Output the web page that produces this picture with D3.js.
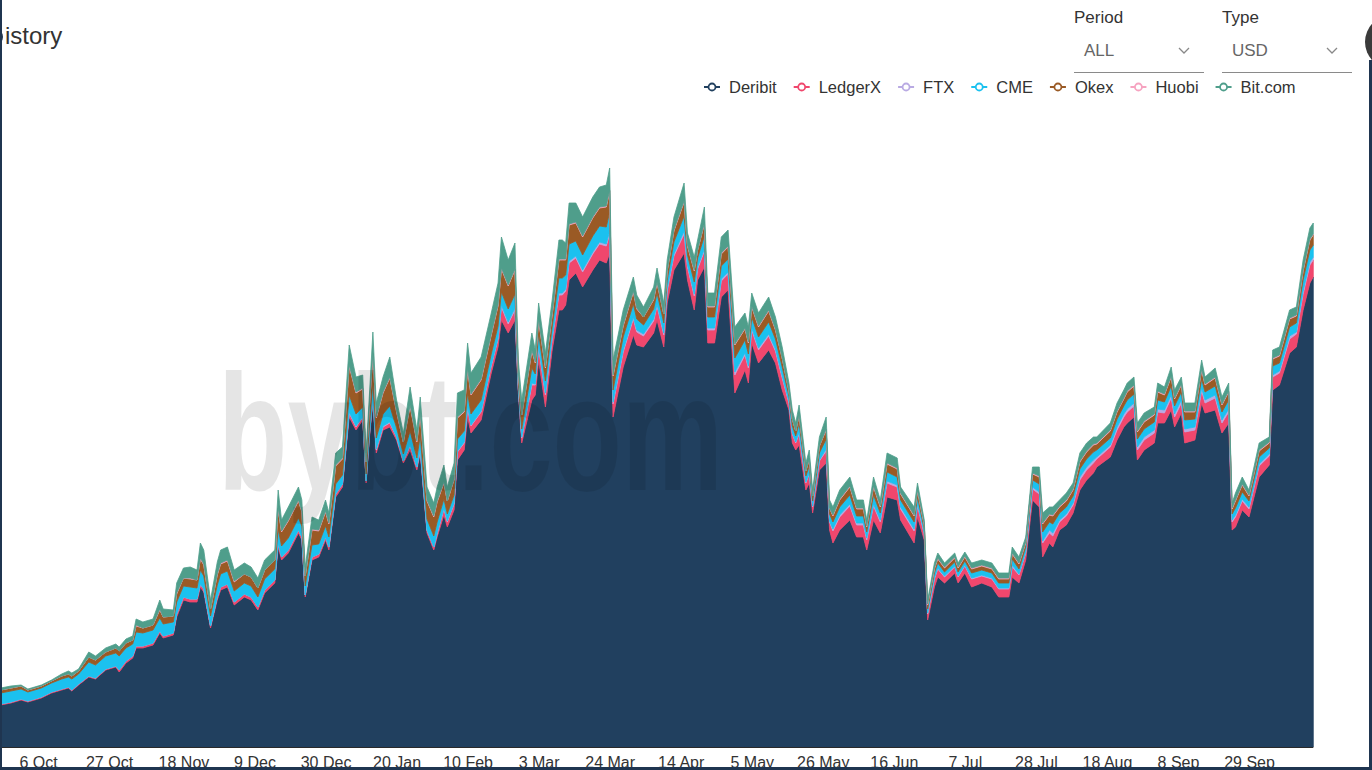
<!DOCTYPE html>
<html>
<head>
<meta charset="utf-8">
<script src="https://cdn.jsdelivr.net/npm/d3@7"></script>
<style>
  html, body { margin: 0; padding: 0; background: #fff; overflow: hidden; }
  svg { display: block; }
  text { font-family: "Liberation Sans", Arial, Helvetica, sans-serif; }
</style>
</head>
<body>
<svg id="chart" width="1372" height="770"></svg>
<script>
// ---------------- DATA (USD millions) ----------------
const dates = [
"2020-09-25","2020-09-28","2020-10-01","2020-10-03","2020-10-07","2020-10-10","2020-10-13","2020-10-15","2020-10-16","2020-10-18",
"2020-10-21","2020-10-23","2020-10-26","2020-10-29","2020-10-30","2020-11-01","2020-11-03","2020-11-04","2020-11-06","2020-11-09",
"2020-11-11","2020-11-12","2020-11-15","2020-11-16","2020-11-18","2020-11-20","2020-11-22","2020-11-23","2020-11-24","2020-11-26",
"2020-11-28","2020-11-29","2020-12-01","2020-12-03","2020-12-06","2020-12-08","2020-12-10","2020-12-12","2020-12-15","2020-12-16",
"2020-12-17","2020-12-19","2020-12-22","2020-12-23","2020-12-24","2020-12-26","2020-12-28","2020-12-30","2020-12-31","2021-01-02",
"2021-01-04","2021-01-06","2021-01-08","2021-01-10","2021-01-11","2021-01-12","2021-01-13","2021-01-14","2021-01-16","2021-01-18",
"2021-01-20","2021-01-22","2021-01-24","2021-01-26","2021-01-27","2021-01-29","2021-01-31","2021-02-01","2021-02-03","2021-02-04",
"2021-02-06","2021-02-07","2021-02-09","2021-02-10","2021-02-11","2021-02-14","2021-02-17","2021-02-19","2021-02-20","2021-02-22",
"2021-02-24","2021-02-25","2021-02-26","2021-03-01","2021-03-02","2021-03-03","2021-03-05","2021-03-07","2021-03-09","2021-03-10",
"2021-03-11","2021-03-12","2021-03-14","2021-03-16","2021-03-19","2021-03-21","2021-03-23","2021-03-24","2021-03-25","2021-03-28",
"2021-03-31","2021-04-01","2021-04-03","2021-04-06","2021-04-07","2021-04-09","2021-04-10","2021-04-12","2021-04-15","2021-04-16",
"2021-04-18","2021-04-19","2021-04-21","2021-04-22","2021-04-24","2021-04-26","2021-04-28","2021-04-30","2021-05-03","2021-05-04",
"2021-05-05","2021-05-07","2021-05-10","2021-05-12","2021-05-14","2021-05-16","2021-05-17","2021-05-18","2021-05-19","2021-05-21",
"2021-05-22","2021-05-23","2021-05-25","2021-05-27","2021-05-28","2021-05-29","2021-05-31","2021-06-03","2021-06-05","2021-06-07",
"2021-06-08","2021-06-10","2021-06-12","2021-06-14","2021-06-17","2021-06-18","2021-06-22","2021-06-23","2021-06-25","2021-06-26",
"2021-06-28","2021-06-29","2021-07-01","2021-07-04","2021-07-05","2021-07-07","2021-07-09","2021-07-12","2021-07-15","2021-07-17",
"2021-07-20","2021-07-21","2021-07-23","2021-07-25","2021-07-27","2021-07-29","2021-07-30","2021-08-01","2021-08-02","2021-08-04",
"2021-08-06","2021-08-08","2021-08-10","2021-08-12","2021-08-14","2021-08-15","2021-08-19","2021-08-21","2021-08-23","2021-08-24",
"2021-08-26","2021-08-27","2021-08-29","2021-09-01","2021-09-02","2021-09-04","2021-09-06","2021-09-07","2021-09-09","2021-09-10",
"2021-09-13","2021-09-15","2021-09-16","2021-09-19","2021-09-21","2021-09-23","2021-09-24","2021-09-25","2021-09-27","2021-09-29",
"2021-10-02","2021-10-05","2021-10-06","2021-10-08","2021-10-11","2021-10-13","2021-10-15","2021-10-17","2021-10-18"
];

const deribit = [
840,880,940,900,980,1080,1140,1180,1120,1240,
1400,1360,1540,1600,1500,1680,1780,1980,1980,2040,
2280,2180,2240,2600,2940,2900,2900,3200,3100,2380,
2940,3140,3200,2840,3000,2940,2740,3080,3280,4000,
3740,3880,4280,4140,3000,3740,3800,4140,3940,5000,
5200,6600,6340,6540,5280,6200,6880,5880,6340,6400,
6140,5680,5940,5540,5880,4280,3940,4200,4640,4400,
4740,5740,5940,6600,6280,6540,7480,8000,8540,8280,
8540,7080,6080,6940,7040,7740,6800,7940,8740,8740,
8840,9340,9480,9200,9540,9740,9680,9880,6600,7600,
8240,8040,8000,8280,8540,8000,8880,9540,9880,9340,
8740,9340,9600,8080,8080,9000,9140,7080,7540,7280,
8080,7680,7940,7680,7140,6740,6080,5940,6040,5140,
5280,4680,5540,5680,4340,4080,4340,4540,4200,4200,
3940,4540,4280,5000,4940,4540,4080,4600,4140,2540,
3200,3400,3280,3480,3280,3480,3200,3280,3200,3000,
3000,3400,3280,3740,4940,4800,3800,4080,4000,4340,
4440,4680,5140,5340,5480,5600,5800,6140,6400,6480,
6600,5740,5940,6080,6480,6480,6740,6400,6680,6080,
6140,6880,6680,6740,6280,6480,4340,4400,4740,4600,
5400,5640,7140,7240,7880,8000,8740,9280,9400
];

const ledgerx = [
20,20,20,20,20,20,20,20,20,20,
20,20,20,20,40,40,40,40,40,40,
40,40,40,60,60,60,60,60,60,40,
60,60,60,60,60,60,60,60,60,80,
60,60,60,60,40,60,60,60,60,60,
60,80,60,60,40,60,80,60,60,80,
60,40,80,60,60,60,60,60,120,100,
120,160,140,180,140,160,140,160,260,180,
200,80,100,300,200,240,240,220,300,300,
280,340,300,300,320,320,340,380,260,300,
320,260,220,240,280,240,240,280,380,260,
280,220,320,260,260,320,320,360,300,300,
260,260,280,240,240,140,180,140,220,140,
180,120,180,240,160,240,260,280,240,240,
200,280,220,280,260,220,240,220,120,120,
160,160,120,120,120,140,160,140,160,160,
160,200,160,140,220,260,280,200,220,160,
180,160,200,200,200,160,200,200,200,220,
220,200,200,200,220,200,240,200,200,220,
200,240,200,240,200,220,160,200,180,160,
220,180,260,240,280,260,320,360,340
];

const ftx = [
0,0,0,0,0,0,0,0,0,0,
0,0,0,0,0,0,0,0,0,0,
0,0,0,0,0,0,0,0,0,0,
0,0,0,0,0,0,0,0,0,0,
0,0,0,0,0,0,0,0,0,0,
0,20,20,0,0,0,20,20,20,20,
0,0,20,0,20,0,0,20,20,20,
20,20,20,40,20,20,20,20,40,40,
40,20,20,40,20,40,40,20,40,40,
40,40,40,40,40,40,40,60,40,40,
40,40,40,40,40,40,40,40,60,40,
40,40,40,40,40,40,40,60,40,40,
40,40,40,40,40,20,20,20,40,20,
20,20,20,40,20,40,40,40,40,40,
40,40,40,40,40,40,40,40,20,20,
20,20,20,20,20,20,20,20,20,20,
20,40,20,20,40,40,40,60,60,40,
40,40,60,60,60,40,40,60,60,60,
60,60,60,60,60,60,60,60,60,60,
60,60,60,60,60,60,40,40,40,40,
40,40,40,40,60,40,60,60,60
];

const cme = [
220,220,200,180,180,180,200,200,220,200,
280,260,260,260,280,260,240,280,260,260,
260,240,220,240,220,240,220,280,260,200,
240,260,260,220,220,220,200,220,220,280,
220,240,240,220,180,240,200,220,200,200,
180,340,240,200,140,200,320,220,240,320,
180,140,280,180,260,220,220,220,180,140,
160,240,220,260,220,220,220,240,260,260,
280,120,160,300,200,240,240,220,300,300,
280,340,300,300,320,320,340,380,240,260,
260,220,180,200,220,200,180,240,300,200,
240,180,260,220,220,260,260,280,260,240,
220,220,240,200,180,120,140,120,180,120,
140,100,140,200,140,140,160,180,140,140,
120,180,140,180,160,140,140,140,80,80,
100,100,80,80,80,80,100,100,100,100,
100,120,100,100,140,160,180,160,180,140,
140,140,160,160,160,140,140,160,160,180,
180,160,160,160,180,160,180,160,160,180,
160,180,160,180,160,180,120,140,140,120,
140,120,180,160,180,180,220,240,240
];

const okex = [
60,60,60,40,40,40,60,60,60,60,
100,100,80,100,100,100,80,120,100,100,
160,140,120,160,160,160,160,220,220,140,
200,200,200,180,180,180,180,180,180,400,
280,340,340,280,200,300,260,280,260,360,
320,580,420,360,240,360,560,400,420,560,
320,240,500,320,440,360,380,400,320,260,
300,420,380,480,380,400,380,400,460,460,
480,200,280,340,220,280,260,240,360,360,
300,380,360,360,360,360,400,420,280,220,
240,200,160,180,200,180,180,220,280,180,
220,160,240,200,200,240,240,260,220,220,
200,200,220,180,180,100,140,100,160,100,
140,100,140,180,120,120,140,160,140,140,
100,160,120,160,160,120,120,120,80,80,
80,80,80,80,80,80,80,80,80,80,
80,100,100,80,120,140,160,140,160,120,
120,120,140,140,140,120,140,140,140,160,
160,140,140,140,160,140,180,140,140,160,
140,180,140,160,140,160,100,140,140,100,
120,100,140,140,160,140,180,200,200
];

const huobi = [
0,0,0,0,0,0,0,0,0,0,
0,0,0,0,0,0,0,20,0,0,
20,0,0,20,0,20,0,20,20,0,
20,20,20,20,0,0,0,0,0,20,
20,20,20,20,0,20,20,20,20,20,
20,20,20,20,0,20,20,20,20,20,
20,0,20,20,20,20,20,20,20,0,
20,20,20,20,20,20,20,20,20,20,
20,0,0,20,20,20,20,20,20,20,
20,20,20,20,20,20,20,20,20,20,
20,20,0,20,20,0,0,20,20,20,
20,0,20,20,20,20,20,20,20,20,
20,20,20,20,0,0,0,0,0,0,
0,0,0,20,0,20,20,20,20,20,
20,20,20,20,20,20,20,20,20,20,
20,20,20,20,20,20,20,20,20,20,
20,20,20,20,20,20,20,20,20,20,
20,20,20,20,20,20,20,20,20,20,
20,20,20,20,20,20,20,20,20,20,
20,20,20,20,20,20,20,20,20,20,
20,20,20,20,20,20,20,20,20
];

const bitcom = [
40,40,20,20,20,20,40,60,60,40,
100,80,80,80,80,80,80,120,120,120,
180,160,120,200,200,220,200,300,280,180,
240,260,260,220,220,200,200,200,200,360,
220,260,260,220,180,240,200,220,200,240,
220,400,300,260,180,240,420,280,300,400,
220,180,360,220,320,260,260,280,340,280,
320,480,420,500,420,440,420,440,620,500,
520,240,300,340,240,320,280,280,380,380,
320,420,380,380,400,400,420,440,300,300,
280,260,200,240,280,220,220,260,360,240,
260,200,320,260,260,320,320,340,300,300,
260,260,260,240,220,160,180,160,200,160,
180,120,180,240,160,160,180,180,160,160,
120,180,120,200,200,120,160,140,80,80,
100,100,80,80,80,80,100,100,100,100,
100,120,120,100,120,180,200,140,160,120,
140,120,160,160,140,120,140,160,160,160,
160,160,160,140,160,140,180,160,140,160,
160,180,140,180,140,160,100,140,140,100,
140,100,160,160,160,160,200,220,220
];

const seriesNames = ["Deribit", "LedgerX", "FTX", "CME", "Okex", "Huobi", "Bit.com"];
const seriesColors = ["#21405f", "#f0476d", "#b9aae3", "#1bc1ef", "#9a5a25", "#f6a3c0", "#4f9e8b"];

const tickDates = ["2020-10-06","2020-10-27","2020-11-18","2020-12-09","2020-12-30","2021-01-20","2021-02-10","2021-03-03","2021-03-24",
                   "2021-04-14","2021-05-05","2021-05-26","2021-06-16","2021-07-07","2021-07-28","2021-08-18","2021-09-08","2021-09-29"];
const tickLabels = ["6 Oct","27 Oct","18 Nov","9 Dec","30 Dec","20 Jan","10 Feb","3 Mar","24 Mar",
                    "14 Apr","5 May","26 May","16 Jun","7 Jul","28 Jul","18 Aug","8 Sep","29 Sep"];

// visible part of the clipped page title
const titleText = "istory";

// ---------------- CHECKS ----------------
const seriesValues = [deribit, ledgerx, ftx, cme, okex, huobi, bitcom];
seriesValues.forEach((arr, i) => {
  if (arr.length !== dates.length) throw new Error(seriesNames[i] + " length " + arr.length + " != " + dates.length);
});

// ---------------- CHART ----------------
const svg = d3.select("#chart");
const W = 1372, H = 770;
const parse = d3.timeParse("%Y-%m-%d");

const rows = dates.map((d, i) => {
  const r = { date: parse(d) };
  seriesNames.forEach((n, k) => { r[n] = seriesValues[k][i]; });
  return r;
});

const x = d3.scaleTime()
  .domain([parse(tickDates[0]), parse(tickDates[tickDates.length - 1])])
  .range([38, 1249]);
const y = d3.scaleLinear().domain([0, 13500]).range([747, 72]);

const stack = d3.stack().keys(seriesNames);
const layers = stack(rows);

const area = d3.area()
  .x(d => x(d.data.date))
  .y0(d => y(d[0]))
  .y1(d => y(d[1]))
  .curve(d3.curveLinear);

const gPlot = svg.append("g");
gPlot.selectAll("path.layer")
  .data(layers)
  .join("path")
  .attr("class", "layer")
  .attr("d", area)
  .attr("fill", (d, i) => seriesColors[i])
  .attr("stroke", (d, i) => seriesColors[i])
  .attr("stroke-width", 0.8)
  .attr("stroke-linejoin", "round");

// watermark
svg.append("text")
  .attr("x", 218).attr("y", 490)
  .attr("textLength", 505)
  .attr("lengthAdjust", "spacingAndGlyphs")
  .style("font-size", "165px")
  .style("font-weight", "bold")
  .attr("fill", "#000")
  .attr("fill-opacity", 0.1)
  .text("bybt.com");

// x axis
const xAxis = d3.axisBottom(x)
  .tickValues(tickDates.map(parse))
  .tickFormat((d, i) => tickLabels[i])
  .tickSize(0)
  .tickPadding(0);
const gx = svg.append("g").attr("transform", "translate(0,755)").call(xAxis);
gx.select(".domain").remove();
gx.selectAll("text")
  .attr("dy", null)
  .attr("y", 13)
  .style("font-size", "16px")
  .style("font-family", "'Liberation Sans', Arial, sans-serif")
  .attr("fill", "#333");

svg.append("line")
  .attr("x1", 0).attr("x2", x(rows[rows.length - 1].date))
  .attr("y1", 747.5).attr("y2", 747.5)
  .attr("stroke", "#2a2a2a").attr("stroke-width", 1.2);

// title
svg.append("text")
  .attr("x", 5).attr("y", 44)
  .style("font-size", "24px")
  .attr("fill", "#333")
  .text(titleText);

// legend
const legend = svg.append("g");
let lx = 712;
seriesNames.forEach((n, i) => {
  const g = legend.append("g");
  g.append("line").attr("x1", lx - 8).attr("x2", lx + 8).attr("y1", 87).attr("y2", 87)
    .attr("stroke", seriesColors[i]).attr("stroke-width", 2);
  g.append("circle").attr("cx", lx).attr("cy", 87).attr("r", 3.5)
    .attr("fill", "#fff").attr("stroke", seriesColors[i]).attr("stroke-width", 1.8);
  const t = g.append("text").attr("x", lx + 17).attr("y", 92.5)
    .style("font-size", "16.5px").attr("fill", "#333").text(n);
  lx = lx + 17 + t.node().getComputedTextLength() + 25;
});

// controls
function control(x0, label, value) {
  const g = svg.append("g");
  g.append("text").attr("x", x0).attr("y", 23).style("font-size", "17px").attr("fill", "#333").text(label);
  g.append("text").attr("x", x0 + 10).attr("y", 56).style("font-size", "17px").attr("fill", "#666").text(value);
  g.append("path")
    .attr("d", `M${x0 + 105},${48} L${x0 + 110},${53} L${x0 + 115},${48}`)
    .attr("fill", "none").attr("stroke", "#888").attr("stroke-width", 1.3);
  g.append("line").attr("x1", x0).attr("x2", x0 + 130).attr("y1", 72.5).attr("y2", 72.5)
    .attr("stroke", "#8a8a8a").attr("stroke-width", 1);
}
control(1074, "Period", "ALL");
control(1222, "Type", "USD");

// window frame pieces
svg.append("circle").attr("cx", -6).attr("cy", 37).attr("r", 9).attr("fill", "#22364d");
svg.append("rect").attr("x", 0).attr("y", 0).attr("width", 2).attr("height", H).attr("fill", "#1f3550");
svg.append("rect").attr("x", 0).attr("y", 767).attr("width", W).attr("height", 3).attr("fill", "#1f3550");
svg.append("rect").attr("x", 1369).attr("y", 60).attr("width", 3).attr("height", H - 60).attr("fill", "#1f3550");
svg.append("circle").attr("cx", 1392).attr("cy", 42).attr("r", 27).attr("fill", "#3a3a3a");
</script>
</body>
</html>
